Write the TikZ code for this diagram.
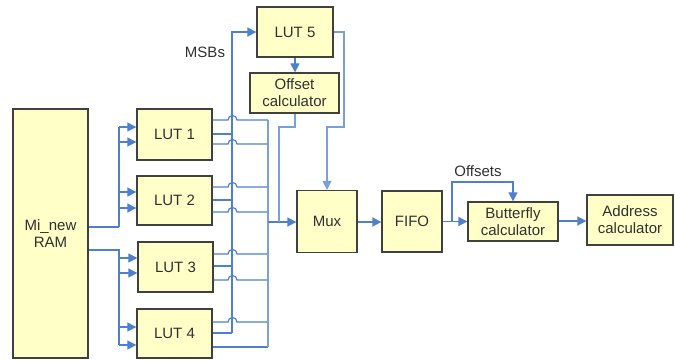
\documentclass[tikz,border=0pt]{standalone}
\usepackage{fontspec}
\setmainfont{Liberation Sans}
\usetikzlibrary{arrows.meta}
\definecolor{boxfill}{HTML}{FFFFC8}
\definecolor{boxline}{HTML}{404040}
\definecolor{txt}{HTML}{303030}
\definecolor{wire}{HTML}{4F80CC}
\definecolor{wirelt}{HTML}{7AA0DA}
\tikzset{
  blk/.style={draw=boxline, line width=1.3pt, fill=boxfill, inner sep=0pt, align=center,
    text=txt, font=\fontsize{15}{17}\selectfont},
  wl/.style={draw=wire, line width=1.2pt},
  wlt/.style={draw=wirelt, line width=1.2pt},
  wb/.style={draw=wire, line width=1.7pt},
  arr/.style={-{Triangle[length=9pt,width=9pt]}},
  lbl/.style={font=\fontsize{15}{17}\selectfont, text=txt, inner sep=0pt},
}
\begin{document}
\begin{tikzpicture}[x=1pt,y=-1pt]
\useasboundingbox (0,0) rectangle (675,360);
% blocks
\node[blk, minimum width=75pt, minimum height=249pt] (ram) at (50.5,233.5) {Mi\_new\\RAM};
\node[blk, minimum width=75pt, minimum height=51pt] (lut1) at (174.5,134.5) {LUT 1};
\node[blk, minimum width=75pt, minimum height=49pt] (lut2) at (174.5,200.5) {LUT 2};
\node[blk, minimum width=75pt, minimum height=50pt] (lut3) at (175.5,267) {LUT 3};
\node[blk, minimum width=75pt, minimum height=49pt] (lut4) at (174.5,333.5) {LUT 4};
\node[blk, minimum width=76pt, minimum height=50pt] (lut5) at (295,32) {LUT 5};
\node[blk, minimum width=89pt, minimum height=40pt] (off) at (294.5,93) {Offset\\calculator};
\node[blk, minimum width=60pt, minimum height=62pt] (mux) at (327,221.5) {Mux};
\node[blk, minimum width=60pt, minimum height=61pt] (fifo) at (412,221.5) {FIFO};
\node[blk, minimum width=90pt, minimum height=39pt] (bfly) at (513,221.5) {Butterfly\\calculator};
\node[blk, minimum width=86pt, minimum height=50pt] (addr) at (630,220) {Address\\calculator};
% labels
\node[lbl] (msbs) at (205,52) {MSBs};
\node[lbl] (offs) at (478,171) {Offsets};
% RAM to LUT 1,2
\coordinate (r1) at (119,227);
\coordinate (r2) at (119,250);
\draw[wl] (ram.east |- r1) -- (r1);
\draw[wl] (r1) -- (119,127);
\draw[wl,arr] (119,127) -- (lut1.west |- 0,127);
\draw[wl,arr] (119,142) -- (lut1.west |- 0,142);
\draw[wl,arr] (119,192) -- (lut2.west |- 0,192);
\draw[wl,arr] (119,208) -- (lut2.west |- 0,208);
% RAM to LUT 3,4
\draw[wl] (ram.east |- r2) -- (r2) -- (119,345);
\draw[wl,arr] (119,258) -- (lut3.west |- 0,258);
\draw[wl,arr] (119,273) -- (lut3.west |- 0,273);
\draw[wl,arr] (119,327) -- (lut4.west |- 0,327);
\draw[wl,arr] (119,345) -- (lut4.west |- 0,345);
% MSB bus
\coordinate (msbtop) at (232,32);
\draw[wb,arr] (232,333) -- (msbtop) -- (lut5.west);
\draw[wl] (lut1.east |- 0,134) -- (232,134);
\draw[wl] (lut2.east |- 0,200) -- (232,200);
\draw[wl] (lut3.east |- 0,266) -- (232,266);
\draw[wl] (lut4.east |- 0,333) -- (232,333);
% outputs with hops to collector
\foreach \n/\y in {lut1/120,lut1/144,lut2/187,lut2/212,lut3/254,lut3/280,lut4/322}{
  \draw[wl] (\n.east |- 0,\y) -- (228,\y) arc[start angle=180,end angle=0,radius=4.5pt] -- (268,\y);
}
\draw[wl] (lut4.east |- 0,347) -- (268,347);
\draw[wlt] (268,120) -- (268,347);
% into mux
\draw[wb,arr] (268,222) -- (mux.west |- 0,222);
% offset calculator to mux input
\draw[wlt] (off.south -| 295,0) -- (295,127) -- (279,127) -- (279,222);
% LUT5 to offset
\draw[wl,arr] (lut5.south) -- (off.north -| lut5.south);
% LUT5 to mux
\draw[wlt,arr] (lut5.east) -- (344,32) -- (344,127) -- (327,127) -- (mux.north);
% chain
\draw[wb,arr] (mux.east |- 0,222) -- (fifo.west |- 0,222);
\coordinate (br) at (452,221.5);
\draw[wb,arr] (fifo.east |- br) -- (bfly.west |- br);
\draw[wl,arr] (br) -- (452,182) -- (513,182) -- (bfly.north);
\draw[wb,arr] (bfly.east |- 0,221) -- (addr.west |- 0,221);
\end{tikzpicture}
\end{document}
